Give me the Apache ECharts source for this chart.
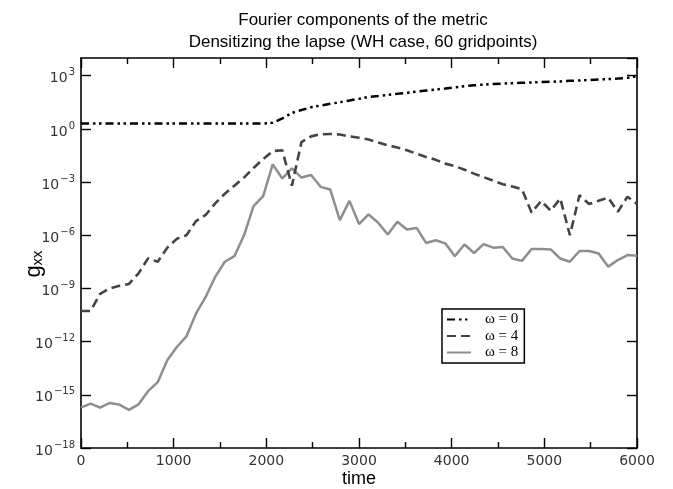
<!DOCTYPE html>
<html>
<head>
<meta charset="utf-8">
<script src="https://cdn.jsdelivr.net/npm/echarts@6/dist/echarts.min.js"></script>
<style>
  html, body { margin: 0; padding: 0; background: #fff; }
  #chart { width: 673px; height: 489px; }
</style>
</head>
<body>
<div id="chart"></div>
<script>
// Sample times of the run
const times = [
  0, 103, 207, 310, 414, 517, 621, 724, 828, 931,
  1034, 1138, 1241, 1345, 1448, 1552, 1655, 1759, 1862, 1966,
  2069, 2172, 2276, 2379, 2483, 2586, 2690, 2793, 2897, 3000,
  3103, 3207, 3310, 3414, 3517, 3621, 3724, 3828, 3931, 4034,
  4138, 4241, 4345, 4448, 4552, 4655, 4759, 4862, 4966, 5069,
  5172, 5276, 5379, 5483, 5586, 5690, 5793, 5897, 6000
];

// Fourier component omega = 0 of g_xx
const gxxW0 = [
  2.0, 2.0, 2.0, 2.0, 2.0, 2.0, 2.0, 2.0, 2.0, 2.0,
  2.0, 2.0, 2.0, 2.0, 2.0, 2.0, 2.0, 2.0, 2.0, 2.0,
  2.2, 3.9, 7.9, 11.7, 16.6, 21, 26, 32, 40, 50,
  63, 72, 83, 95, 110, 126, 145, 166, 190, 219,
  257, 288, 316, 339, 363, 380, 398, 417, 437, 457,
  479, 513, 537, 575, 617, 646, 692, 759, 933
];

// Fourier component omega = 4 of g_xx
const gxxW4 = [
  5.4e-11, 5.4e-11, 5.0e-10, 1.0e-9, 1.4e-9, 1.8e-9, 7.1e-9, 5.0e-8, 3.2e-8, 2.0e-7,
  6.3e-7, 1.0e-6, 6.3e-6, 1.4e-5, 6.3e-5, 2.2e-4, 6.3e-4, 1.8e-3, 6.3e-3, 2.0e-2,
  5.6e-2, 6.3e-2, 6.3e-4, 0.18, 0.38, 0.50, 0.52, 0.48, 0.38, 0.32,
  0.25, 0.17, 0.12, 8.9e-2, 6.3e-2, 4.0e-2, 2.6e-2, 1.8e-2, 1.1e-2, 7.9e-3,
  5.0e-3, 3.0e-3, 1.9e-3, 1.2e-3, 7.6e-4, 5.6e-4, 4.0e-4, 1.9e-5, 8.7e-5, 2.4e-5,
  1.2e-4, 1.0e-6, 1.8e-4, 5.8e-5, 8.9e-5, 1.3e-4, 2.1e-5, 1.5e-4, 5.8e-5
];

// Fourier component omega = 8 of g_xx
const gxxW8 = [
  1.9e-16, 3.2e-16, 1.9e-16, 3.5e-16, 2.8e-16, 1.4e-16, 2.9e-16, 1.6e-15, 5.2e-15, 8.9e-14,
  5.0e-13, 2.0e-12, 3.8e-11, 3.3e-10, 4.5e-9, 3.2e-8, 6.6e-8, 1.0e-6, 4.4e-5, 1.6e-4,
  1.0e-2, 1.6e-3, 5.9e-3, 1.8e-3, 2.5e-3, 5.4e-4, 3.8e-4, 7.1e-6, 8.7e-5, 4.3e-6,
  1.5e-5, 5.1e-6, 1.1e-6, 5.8e-6, 2.1e-6, 2.6e-6, 3.7e-7, 5.2e-7, 3.5e-7, 6.6e-8,
  3.0e-7, 1.0e-7, 3.2e-7, 2.0e-7, 2.2e-7, 4.9e-8, 3.6e-8, 1.7e-7, 1.7e-7, 1.6e-7,
  4.9e-8, 3.2e-8, 1.3e-7, 1.3e-7, 9.3e-8, 1.7e-8, 4.0e-8, 7.6e-8, 6.9e-8
];

const seriesNames = ['\u03c9 = 0', '\u03c9 = 4', '\u03c9 = 8'];
const seriesColors = ['#000000', '#444444', '#8e8e8e'];

// Axis ranges
const timeRange = [0, 6000];
const timeStep = 1000;
const gxxRange = [1e-18, 1e4];
const decadeStep = 3;   // labelled decades

const pairs = vals => times.map((t, i) => [t, vals[i]]);

const tickFont = 'DejaVu Sans';
const frame = { show: true, onZero: false, lineStyle: { color: '#000', width: 1.6 } };

const chart = echarts.init(document.getElementById('chart'), null, { renderer: 'canvas' });

const xBase = {
  type: 'value', min: timeRange[0], max: timeRange[1], interval: timeStep,
  axisLine: frame,
  axisTick: { show: true, inside: true, length: 10, lineStyle: { color: '#000', width: 1.4 } },
  minorTick: { show: true, splitNumber: 2, length: 6, lineStyle: { color: '#000', width: 1.4 } },
  splitLine: { show: false }
};
const yBase = {
  type: 'log', logBase: 10, min: gxxRange[0], max: gxxRange[1], interval: decadeStep,
  axisLine: frame,
  axisTick: { show: true, inside: true, length: 10, lineStyle: { color: '#000', width: 1.4 } },
  minorTick: { show: false },
  splitLine: { show: false }
};

chart.setOption({
  animation: false,
  backgroundColor: '#fff',
  color: seriesColors,
  title: {
    text: 'Fourier components of the metric\nDensitizing the lapse (WH case, 60 gridpoints)',
    left: 358, top: 4, textAlign: 'center',
    textStyle: { fontFamily: 'Liberation Sans', fontSize: 17, fontWeight: 'normal', color: '#000', lineHeight: 22 }
  },
  grid: { left: 81, right: 36, top: 58, bottom: 41, containLabel: false, outerBoundsMode: 'none' },
  legend: {
    orient: 'vertical', left: 442, top: 309,
    data: seriesNames,
    backgroundColor: '#fff',
    borderColor: '#000', borderWidth: 1.5, borderRadius: 0,
    padding: [3, 6, 3, 4],
    itemGap: 1.5, itemWidth: 24, itemHeight: 14,
    itemStyle: { opacity: 0 },
    textStyle: { fontFamily: 'Liberation Serif', fontSize: 15, color: '#000', padding: [0, 0, 0, 9] }
  },
  xAxis: [
    Object.assign({}, xBase, {
      position: 'bottom',
      name: 'time', nameLocation: 'middle', nameGap: 22, nameMoveOverlap: false,
      nameTextStyle: { fontFamily: 'Liberation Sans', fontSize: 18, color: '#000' },
      axisLabel: { fontFamily: tickFont, fontSize: 14, color: '#333', margin: 6, formatter: v => String(v) }
    }),
    Object.assign({}, xBase, { position: 'top', axisLabel: { show: false } })
  ],
  yAxis: [
    Object.assign({}, yBase, {
      position: 'left',
      name: 'g{s|xx}', nameLocation: 'middle', nameGap: 36, nameRotate: 90, nameMoveOverlap: false,
      nameTextStyle: {
        fontFamily: 'Liberation Sans', fontSize: 22, color: '#000',
        padding: [0, 22, 0, 0],
        rich: { s: { fontFamily: 'Liberation Sans', fontSize: 15, color: '#000', padding: [8, 0, 0, 0] } }
      },
      axisLabel: {
        margin: 6, showMaxLabel: false,
        formatter: v => {
          const e = Math.round(Math.log10(v));
          if (e > 3) return '';
          return '{b|10}{s|' + (e < 0 ? '\u2212' + (-e) : e) + '}';
        },
        rich: {
          b: { fontFamily: tickFont, fontSize: 14, color: '#333', padding: [6, 0, 0, 0] },
          s: { fontFamily: tickFont, fontSize: 10, color: '#333', padding: [0, 0, 6, 1] }
        }
      }
    }),
    Object.assign({}, yBase, { position: 'right', axisLabel: { show: false } })
  ],
  series: [
    {
      name: seriesNames[0], type: 'line', data: pairs(gxxW0),
      xAxisIndex: 0, yAxisIndex: 0, symbol: 'none',
      itemStyle: { color: seriesColors[0] },
      lineStyle: { color: seriesColors[0], width: 2.5, type: [8, 4, 2.5, 3.5, 2.5, 4] }, z: 5
    },
    {
      name: seriesNames[1], type: 'line', data: pairs(gxxW4),
      xAxisIndex: 0, yAxisIndex: 0, symbol: 'none',
      itemStyle: { color: seriesColors[1] },
      lineStyle: { color: seriesColors[1], width: 2.6, type: [9, 5] }, z: 4
    },
    {
      name: seriesNames[2], type: 'line', data: pairs(gxxW8),
      xAxisIndex: 0, yAxisIndex: 0, symbol: 'none',
      itemStyle: { color: seriesColors[2] },
      lineStyle: { color: seriesColors[2], width: 2.5 }, z: 3
    }
  ]
});
</script>
</body>
</html>
